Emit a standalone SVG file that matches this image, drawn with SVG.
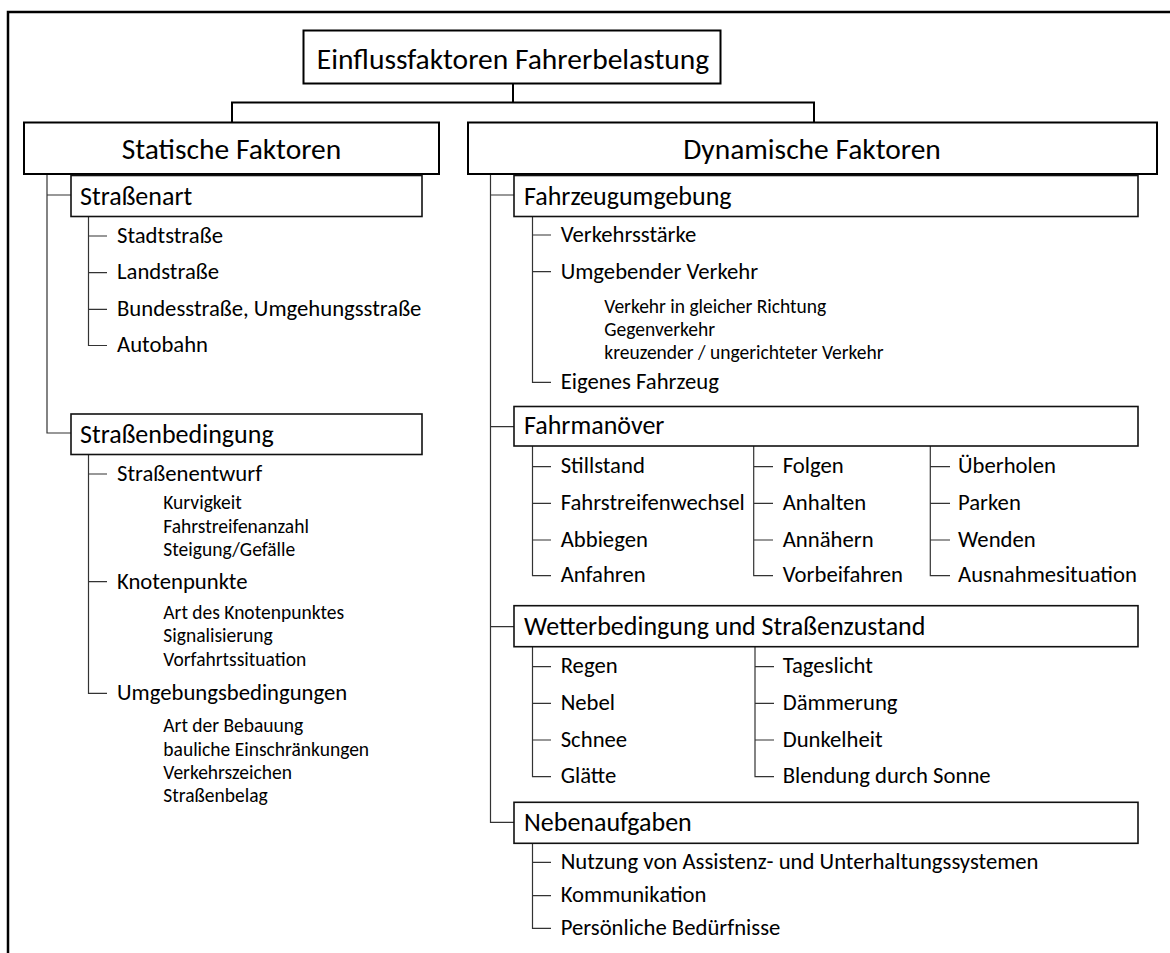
<svg xmlns="http://www.w3.org/2000/svg" width="1170" height="953" viewBox="0 0 1170 953">
<style>
text{font-family:Carlito,Lato,"Liberation Sans",sans-serif;fill:#000}
.t1{font-size:29.5px}
.t2{font-size:26px}
.t3{font-size:22.7px}
.t4{font-size:19.5px}
.mid{text-anchor:middle}
.bx{fill:#fff;stroke:#000;stroke-width:2}
.sbx{fill:#fff;stroke:#111;stroke-width:1.6}
.main{fill:none;stroke:#000;stroke-width:2}
.thin{fill:none;stroke:#333;stroke-width:1.2}
</style>
<rect width="1170" height="953" fill="#fff"/>
<path d="M8,953 V12 H1170" fill="none" stroke="#000" stroke-width="2.5"/>
<g id="connectors">
<path class="main" d="M513,83.5 V102.5 M232,122.5 V102.5 H814 V122.5"/>
<path class="thin" d="M47,174 V433 H71 M47,195 H71"/>
<path class="thin" d="M88.5,216.5 V345.5 H107 M88.5,236 H107 M88.5,272.7 H107 M88.5,309.3 H107"/>
<path class="thin" d="M88.5,454.5 V693.3 H107 M88.5,474 H107 M88.5,581.7 H107"/>
<path class="thin" d="M490.5,174 V822.3 H514 M490.5,195 H514 M490.5,426.7 H514 M490.5,626.7 H514"/>
<path class="thin" d="M532.5,216.5 V382.3 H551 M532.5,235 H551 M532.5,271.7 H551"/>
<path class="thin" d="M532.5,446 V575.7 H551 M532.5,466.7 H551 M532.5,503.3 H551 M532.5,540 H551"/>
<path class="thin" d="M753.7,446 V575.7 H773 M753.7,466.7 H773 M753.7,503.3 H773 M753.7,540 H773"/>
<path class="thin" d="M930.3,446 V575.7 H950 M930.3,466.7 H950 M930.3,503.3 H950 M930.3,540 H950"/>
<path class="thin" d="M532.5,646.7 V776.7 H551 M532.5,666.7 H551 M532.5,703.3 H551 M532.5,740 H551"/>
<path class="thin" d="M755,646.7 V776.7 H774 M755,666.7 H774 M755,703.3 H774 M755,740 H774"/>
<path class="thin" d="M532.5,843.3 V928.3 H551 M532.5,862.3 H551 M532.5,895.7 H551"/>
</g>
<g id="root">
<rect class="bx" x="303.5" y="30.5" width="417" height="53"/>
<text class="t1 mid" x="513" y="69">Einflussfaktoren Fahrerbelastung</text>
</g>
<g id="statisch">
<rect class="bx" x="24" y="122.5" width="415" height="51.5"/>
<text class="t1 mid" x="231.5" y="159">Statische Faktoren</text>
</g>
<g id="dynamisch">
<rect class="bx" x="468" y="122.5" width="689" height="51.5"/>
<text class="t1 mid" x="812" y="159">Dynamische Faktoren</text>
</g>
<g id="strassenart">
<rect class="sbx" x="71" y="175.5" width="351" height="41"/>
<text class="t2" x="80" y="205">Straßenart</text>
<text class="t3" x="117" y="242.5">Stadtstraße</text>
<text class="t3" x="117" y="279.2">Landstraße</text>
<text class="t3" x="117" y="315.8">Bundesstraße, Umgehungsstraße</text>
<text class="t3" x="117" y="352">Autobahn</text>
</g>
<g id="strassenbedingung">
<rect class="sbx" x="71" y="414" width="351" height="40.5"/>
<text class="t2" x="80" y="443">Straßenbedingung</text>
<text class="t3" x="117" y="481">Straßenentwurf</text>
<text class="t4" x="163.3" y="509">Kurvigkeit</text>
<text class="t4" x="163.3" y="532.5">Fahrstreifenanzahl</text>
<text class="t4" x="163.3" y="555.7">Steigung/Gefälle</text>
<text class="t3" x="117" y="588.5">Knotenpunkte</text>
<text class="t4" x="163.3" y="619">Art des Knotenpunktes</text>
<text class="t4" x="163.3" y="642.3">Signalisierung</text>
<text class="t4" x="163.3" y="665.6">Vorfahrtssituation</text>
<text class="t3" x="117" y="700">Umgebungsbedingungen</text>
<text class="t4" x="163.3" y="732.3">Art der Bebauung</text>
<text class="t4" x="163.3" y="755.7">bauliche Einschränkungen</text>
<text class="t4" x="163.3" y="779">Verkehrszeichen</text>
<text class="t4" x="163.3" y="802.3">Straßenbelag</text>
</g>
<g id="fahrzeugumgebung">
<rect class="sbx" x="514" y="175.5" width="624" height="41"/>
<text class="t2" x="524" y="205">Fahrzeugumgebung</text>
<text class="t3" x="560.7" y="241.7">Verkehrsstärke</text>
<text class="t3" x="560.7" y="278.5">Umgebender Verkehr</text>
<text class="t4" x="604.3" y="312.7">Verkehr in gleicher Richtung</text>
<text class="t4" x="604.3" y="335.8">Gegenverkehr</text>
<text class="t4" x="604.3" y="359">kreuzender / ungerichteter Verkehr</text>
<text class="t3" x="560.7" y="389">Eigenes Fahrzeug</text>
</g>
<g id="fahrmanoever">
<rect class="sbx" x="514" y="406.5" width="624" height="39.5"/>
<text class="t2" x="524" y="434.3">Fahrmanöver</text>
<text class="t3" x="560.7" y="473.4">Stillstand</text>
<text class="t3" x="560.7" y="510">Fahrstreifenwechsel</text>
<text class="t3" x="560.7" y="546.7">Abbiegen</text>
<text class="t3" x="560.7" y="582.4">Anfahren</text>
<text class="t3" x="782.7" y="473.4">Folgen</text>
<text class="t3" x="782.7" y="510">Anhalten</text>
<text class="t3" x="782.7" y="546.7">Annähern</text>
<text class="t3" x="782.7" y="582.4">Vorbeifahren</text>
<text class="t3" x="958" y="473.4">Überholen</text>
<text class="t3" x="958" y="510">Parken</text>
<text class="t3" x="958" y="546.7">Wenden</text>
<text class="t3" x="958" y="582.4">Ausnahmesituation</text>
</g>
<g id="wetter">
<rect class="sbx" x="514" y="605.7" width="624" height="41"/>
<text class="t2" x="524" y="635">Wetterbedingung und Straßenzustand</text>
<text class="t3" x="560.7" y="673.4">Regen</text>
<text class="t3" x="560.7" y="710">Nebel</text>
<text class="t3" x="560.7" y="746.7">Schnee</text>
<text class="t3" x="560.7" y="783.4">Glätte</text>
<text class="t3" x="782.7" y="673.4">Tageslicht</text>
<text class="t3" x="782.7" y="710">Dämmerung</text>
<text class="t3" x="782.7" y="746.7">Dunkelheit</text>
<text class="t3" x="782.7" y="783.4">Blendung durch Sonne</text>
</g>
<g id="nebenaufgaben">
<rect class="sbx" x="514" y="802.3" width="624" height="41"/>
<text class="t2" x="524" y="831">Nebenaufgaben</text>
<text class="t3" x="560.7" y="869">Nutzung von Assistenz- und Unterhaltungssystemen</text>
<text class="t3" x="560.7" y="902.4">Kommunikation</text>
<text class="t3" x="560.7" y="935">Persönliche Bedürfnisse</text>
</g>
</svg>
